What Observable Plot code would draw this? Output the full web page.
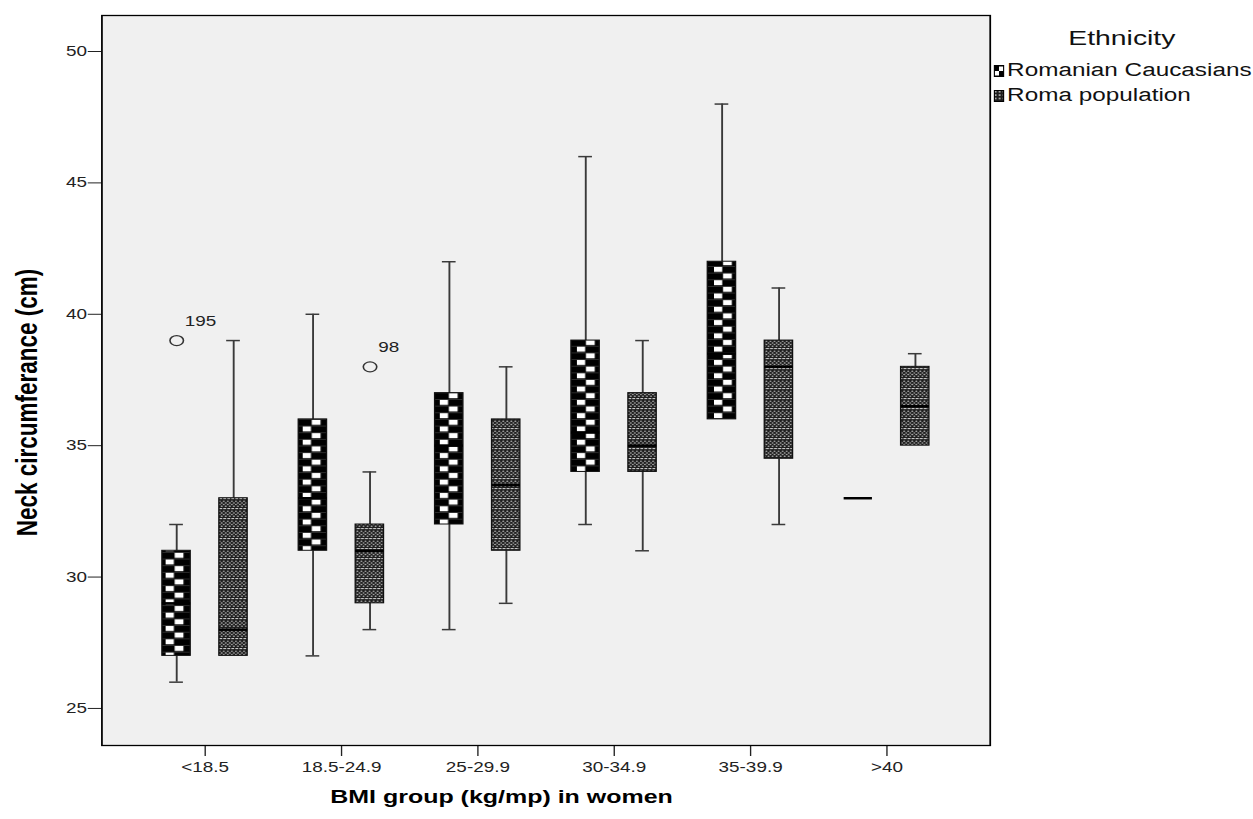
<!DOCTYPE html>
<html>
<head>
<meta charset="utf-8">
<script src="https://cdn.jsdelivr.net/npm/d3@7"></script>
<script src="https://cdn.jsdelivr.net/npm/@observablehq/plot@0.6"></script>
<style>
  html, body { margin: 0; padding: 0; background: #fff; }
  #wrap { position: relative; width: 928px; height: 819px; transform: scaleX(1.35); transform-origin: 0 0; font-family: "Liberation Sans", Arial, sans-serif; }
  #chart svg { display: block; }
  #legend { position: absolute; left: 736px; top: 0; color: #111; }
  #legend .title { position: absolute; left: 50px; width: 90px; text-align: center; top: 26px; font-size: 21px; white-space: nowrap; }
  #legend .item { position: absolute; left: 0; display: flex; align-items: center; font-size: 18px; white-space: nowrap; }
  #legend .item svg { margin-right: 2px; }
</style>
</head>
<body>
<svg width="0" height="0" style="position:absolute">
  <defs>
    <pattern id="romanian" patternUnits="userSpaceOnUse" width="20.31" height="13.3">
      <rect width="20.31" height="13.3" fill="#000"/>
      <rect x="0" y="0.9" width="6.1" height="5" fill="#fff"/>
      <rect x="6.7" y="7.55" width="6.5" height="5" fill="#fff"/>
      <rect x="0" y="0" width="20.31" height="0.5" fill="#555"/>
      <rect x="0" y="6.65" width="20.31" height="0.5" fill="#555"/>
    </pattern>
    <pattern id="roma" patternUnits="userSpaceOnUse" width="3" height="10">
      <rect width="3" height="10" fill="#1e1e1e"/>
      <circle cx="0.75" cy="1.2" r="0.75" fill="#a8a8a8"/>
      <circle cx="2.25" cy="2.9" r="0.75" fill="#a8a8a8"/>
      <circle cx="0.75" cy="4.6" r="0.75" fill="#a8a8a8"/>
      <circle cx="2.25" cy="6.3" r="0.75" fill="#a8a8a8"/>
      <rect x="0.3" y="8.2" width="2.2" height="0.9" fill="#eee"/>
    </pattern>
    <pattern id="romaLegend" patternUnits="userSpaceOnUse" width="3" height="3.4">
      <rect width="3" height="3.4" fill="#1e1e1e"/>
      <circle cx="1.5" cy="1.7" r="0.8" fill="#bbb"/>
    </pattern>
  </defs>
</svg>
<div id="wrap">
  <div id="chart"></div>
  <div id="legend">
    <div class="title">Ethnicity</div>
    <div class="item" style="top:60px">
      <svg width="8" height="12" viewBox="0 0 8 12"><rect x="0.5" y="0.5" width="7" height="11" fill="#000" stroke="#000"/><rect x="4" y="1.5" width="3" height="4.5" fill="#fff"/><rect x="1" y="6" width="3" height="4.5" fill="#fff"/></svg>
      <span>Romanian Caucasians</span>
    </div>
    <div class="item" style="top:85px">
      <svg width="8" height="12" viewBox="0 0 8 12"><rect x="0.5" y="0.5" width="7" height="11" fill="url(#romaLegend)" stroke="#000"/></svg>
      <span>Roma population</span>
    </div>
  </div>
</div>
<script>
// ---- data ----
const groups = ["<18.5", "18.5-24.9", "25-29.9", "30-34.9", "35-39.9", ">40"];
const ethnicities = ["Romanian Caucasians", "Roma population"];
const yTicks = [25, 30, 35, 40, 45, 50];
const xTitle = "BMI group (kg/mp) in women";
const yTitle = "Neck circumferance (cm)";

const romanianMin    = [26, 27, 28, 32, 36, 33];
const romanianQ1     = [27, 31, 32, 34, 36, 33];
const romanianMedian = [29, 33, 35, 35.5, 38.5, 33];
const romanianQ3     = [31, 36, 37, 39, 42, 33];
const romanianMax    = [32, 40, 42, 46, 48, 33];

const romaMin    = [27, 28, 29, 31, 32, 35];
const romaQ1     = [27, 29, 31, 34, 34.5, 35];
const romaMedian = [28, 31, 33.5, 35, 38, 36.5];
const romaQ3     = [33, 32, 36, 37, 39, 38];
const romaMax    = [39, 34, 38, 39, 41, 38.5];

const outlierGroups = ["<18.5", "18.5-24.9"];
const outlierEthnicity = ["Romanian Caucasians", "Roma population"];
const outlierValues = [39, 38];
const outlierLabels = ["195", "98"];

// ---- build tables ----
const boxes = groups.flatMap((g, i) => [
  {group: g, eth: ethnicities[0], min: romanianMin[i], q1: romanianQ1[i], median: romanianMedian[i], q3: romanianQ3[i], max: romanianMax[i]},
  {group: g, eth: ethnicities[1], min: romaMin[i], q1: romaQ1[i], median: romaMedian[i], q3: romaQ3[i], max: romaMax[i]}
]);
const outliers = outlierValues.map((v, i) => ({group: outlierGroups[i], eth: outlierEthnicity[i], value: v, label: outlierLabels[i]}));

// ---- layout (style) constants ----
const W = 928, H = 819, ML = 75, MR = 195, MT = 15, MB = 74, outerPad = 0.24;
const step = (W - ML - MR) / (groups.length + 2 * outerPad);
const offset = 21.1, boxW = 21.5, capW = 10.7;
const insets = (sign, w) => {
  const left = step / 2 + sign * offset - w / 2;
  return {insetLeft: left, insetRight: step - left - w};
};
// align checker pattern with the Romanian boxes
document.getElementById("romanian").setAttribute("x", ML + outerPad * step + insets(-1, boxW).insetLeft + 4.4);

const whiskerStroke = "#3a3a3a";
const fills = ["url(#romanian)", "url(#roma)"];

const boxMarks = ethnicities.flatMap((eth, k) => {
  const sign = k === 0 ? -1 : 1;
  const rows = boxes.filter(d => d.eth === eth);
  const upper = rows.filter(d => d.max > d.q3);
  const lower = rows.filter(d => d.min < d.q1);
  const out = outliers.filter(d => d.eth === eth);
  return [
    Plot.ruleX(upper, {x: "group", y1: "q3", y2: "max", dx: sign * offset, stroke: whiskerStroke, strokeWidth: 1.4}),
    Plot.ruleX(lower, {x: "group", y1: "min", y2: "q1", dx: sign * offset, stroke: whiskerStroke, strokeWidth: 1.4}),
    Plot.tickY(upper, {x: "group", y: "max", stroke: whiskerStroke, strokeWidth: 1.5, ...insets(sign, capW)}),
    Plot.tickY(lower, {x: "group", y: "min", stroke: whiskerStroke, strokeWidth: 1.5, ...insets(sign, capW)}),
    Plot.barY(rows, {x: "group", y1: "q1", y2: "q3", fill: fills[k], stroke: "#111", strokeWidth: 1, ...insets(sign, boxW)}),
    Plot.tickY(rows, {x: "group", y: "median", stroke: "#000", strokeWidth: 2.5, ...insets(sign, boxW)}),
    Plot.dot(out, {x: "group", y: "value", dx: sign * offset, r: 5, stroke: "#333", strokeWidth: 1.2, fill: "none"}),
    Plot.text(out, {x: "group", y: "value", text: "label", dx: sign * offset + 6, dy: -19, textAnchor: "start", fontSize: 14, fill: "#222"})
  ];
});

const chart = Plot.plot({
  width: W,
  height: H,
  marginLeft: ML,
  marginRight: MR,
  marginTop: MT,
  marginBottom: MB,
  style: {fontFamily: "'Liberation Sans', Arial, sans-serif", fontSize: "14px", color: "#222", background: "#fff", overflow: "visible"},
  x: {domain: groups, paddingInner: 0, paddingOuter: outerPad},
  y: {domain: [23.59, 51.37]},
  marks: [
    Plot.frame({fill: "#f0f0f0", stroke: null}),
    ...boxMarks,
    Plot.axisY({ticks: yTicks, tickSize: 10, tickPadding: 1, fontSize: 14, label: null}),
    Plot.axisX({tickSize: 11, tickPadding: 6, fontSize: 14, label: null}),
    Plot.text([yTitle], {text: d => d, frameAnchor: "left", textAnchor: "middle", lineAnchor: "middle", rotate: -90, dx: -55, dy: 22, fontSize: 22.5, fontWeight: "bold", fill: "#000"}),
    Plot.text([xTitle], {text: d => d, frameAnchor: "bottom", textAnchor: "middle", lineAnchor: "middle", dx: -33, dy: 52, fontSize: 18.5, fontWeight: "bold", fill: "#000"}),
    Plot.frame({stroke: "#000", strokeWidth: 1.3})
  ]
});
document.getElementById("chart").appendChild(chart);
</script>
</body>
</html>
